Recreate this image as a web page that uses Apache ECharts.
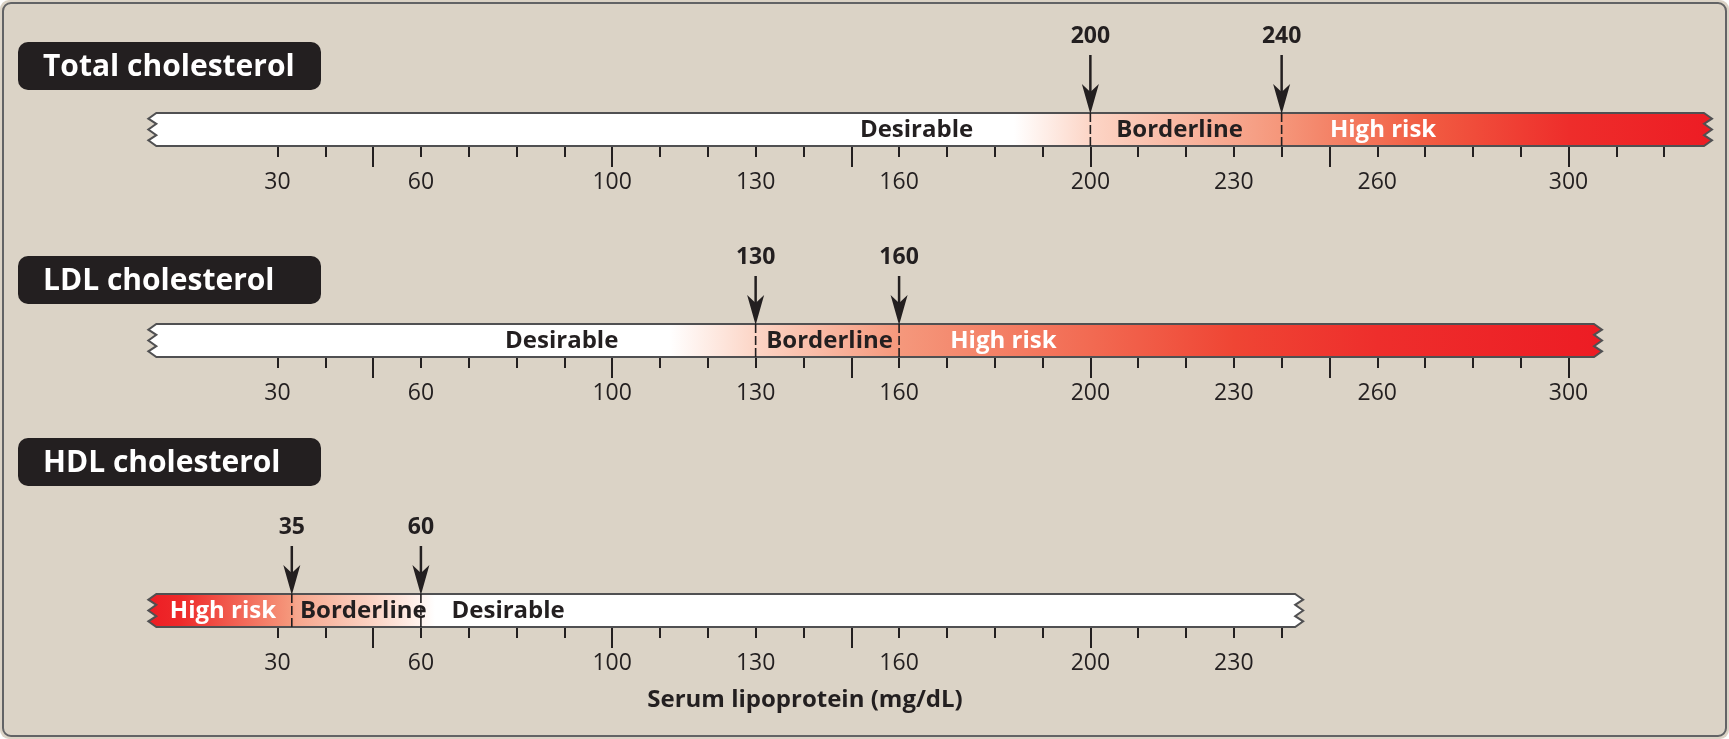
<!DOCTYPE html>
<html>
<head>
<meta charset="utf-8">
<script src="https://cdn.jsdelivr.net/npm/echarts@6.0.0/dist/echarts.min.js"></script>
<style>
  body { margin: 0; background: #ffffff; }
  #wrap { position: relative; width: 1729px; height: 739px; }
  #map_div { position: absolute; left: 0; top: 0; width: 1729px; height: 739px; background: #dbd3c6; border-radius: 9px; }
  #frame { position: absolute; left: 2px; top: 2px; width: 1725px; height: 735px; box-sizing: border-box;
           border: 2px solid #626365; border-radius: 9px; pointer-events: none; }
</style>
</head>
<body>
<div id="wrap"><div id="map_div"></div><div id="frame"></div></div>
<script>
// rows of the figure
var rows = ['Total cholesterol', 'LDL cholesterol', 'HDL cholesterol'];
var barStart = [3, 3, 3];
var barEnd = [330, 307, 244.5];

// cut points (arrow position) and what the arrow says
var cutValues = [[200, 240], [130, 160], [33, 60]];
var cutLabels = [['200', '240'], ['130', '160'], ['35', '60']];

// zone names and where their text begins
var zoneNames = [
  ['Desirable', 'Borderline', 'High risk'],
  ['Desirable', 'Borderline', 'High risk'],
  ['High risk', 'Borderline', 'Desirable']
];
var zoneStarts = [[151.8, 205.4, 250.1], [77.6, 132.2, 170.7], [7.5, 34.7, 66.4]];

// axis labels / ticks
var tickLabels = [
  [30, 60, 100, 130, 160, 200, 230, 260, 300],
  [30, 60, 100, 130, 160, 200, 230, 260, 300],
  [30, 60, 100, 130, 160, 200, 230]
];
var minorTicks = [
  [30, 40, 50, 60, 70, 80, 90, 100, 110, 120, 130, 140, 150, 160, 170, 180, 190, 200, 210, 220, 230, 240, 250, 260, 270, 280, 290, 300, 310, 320],
  [30, 40, 50, 60, 70, 80, 90, 100, 110, 120, 130, 140, 150, 160, 170, 180, 190, 200, 210, 220, 230, 240, 250, 260, 270, 280, 290, 300],
  [30, 40, 50, 60, 70, 80, 90, 100, 110, 120, 130, 140, 150, 160, 170, 180, 190, 200, 210, 220, 230, 240]
];
var majorTicks = [
  [50, 100, 150, 200, 250, 300],
  [50, 100, 150, 200, 250, 300],
  [50, 100, 150, 200]
];

// colour ramps along each bar: [value, colour]
var ramps = [
  [[3, '#ffffff'], [184, '#ffffff'], [200, '#fcd5c6'], [240, '#f5967a'], [270, '#f15c42'], [300, '#ee2d2b'], [330, '#ed1c24']],
  [[3, '#ffffff'], [112, '#ffffff'], [130, '#fcd5c6'], [160, '#f5987c'], [200, '#f26a52'], [230, '#ef4534'], [260, '#ee2e2c'], [307, '#ed1c24']],
  [[3, '#ed1c24'], [10, '#ee2a2a'], [33, '#f5987c'], [34, '#f6a68d'], [50, '#fbd3c4'], [60, '#fff3ee'], [63, '#ffffff'], [244.5, '#ffffff']]
];

var FONT = 'Open Sans';
var INK = '#231f20';
var gridTop = [113, 324, 594];
var barH = 33;
var arrowLen = [58, 48, 48];
var boxTop = [42, 256, 438];

function rampStops(i) {
  var s = barStart[i], e = barEnd[i];
  return ramps[i].map(function (r) {
    return { offset: (r[0] - s) / (e - s), color: r[1] };
  });
}

function barRenderer(i) {
  return function (params, api) {
    var a = api.coord([api.value(0), 1]);
    var b = api.coord([api.value(1), 0]);
    var x0 = a[0], x1 = b[0], y0 = a[1], y1 = b[1], h = y1 - y0;
    var z = 8;
    var f = [0, 0.17, 0.33, 0.5, 0.67, 0.83, 1];
    var pts = [];
    // right end, top to bottom
    for (var k = 0; k < f.length; k++) {
      pts.push([k % 2 ? x1 : x1 - z, y0 + f[k] * h]);
    }
    // left end, bottom to top
    for (var k2 = f.length - 1; k2 >= 0; k2--) {
      pts.push([k2 % 2 ? x0 : x0 + z, y0 + f[k2] * h]);
    }
    return {
      type: 'polygon',
      shape: { points: pts },
      style: {
        fill: new echarts.graphic.LinearGradient(0, 0, 1, 0, rampStops(i)),
        stroke: '#505052',
        lineWidth: 2
      }
    };
  };
}

function cutRenderer(i) {
  return function (params, api) {
    var v = api.value(0);
    var top = api.coord([v, 1]);
    var bot = api.coord([v, 0]);
    var x = top[0], len = arrowLen[i];
    return {
      type: 'group',
      children: [
        { type: 'line', shape: { x1: x, y1: top[1] - len, x2: x, y2: top[1] - 14 },
          style: { stroke: INK, lineWidth: 2.5 } },
        { type: 'polygon', shape: { points: [[x, top[1] + 1], [x - 8.5, top[1] - 29], [x, top[1] - 21], [x + 8.5, top[1] - 29]] },
          style: { fill: INK } },
        { type: 'line', shape: { x1: x, y1: top[1], x2: x, y2: bot[1] },
          style: { stroke: INK, lineWidth: 1.6, lineDash: [9, 3] } },
        { type: 'text', x: x, y: top[1] - len - 19,
          style: { text: cutLabels[i][api.value(1)], fill: INK, font: 'bold 23px "' + FONT + '"',
                   align: 'center', verticalAlign: 'middle' } }
      ]
    };
  };
}

function zoneRenderer(i) {
  return function (params, api) {
    var p = api.coord([api.value(0), 0.5]);
    var name = zoneNames[i][api.value(1)];
    return {
      type: 'text', x: p[0], y: p[1] + 1,
      style: { text: name, fill: name === 'High risk' ? '#ffffff' : INK,
               font: 'bold 24px "' + FONT + '"', align: 'left', verticalAlign: 'middle' }
    };
  };
}

var grids = [], xAxes = [], yAxes = [], series = [], graphics = [];
for (var i = 0; i < rows.length; i++) {
  grids.push({ left: 134, right: 17, top: gridTop[i], height: barH, outerBoundsMode: 'none' });
  xAxes.push({
    gridIndex: i, type: 'value', min: 0, max: 330, position: 'bottom',
    axisLine: { show: false }, splitLine: { show: false },
    axisTick: { show: true, customValues: minorTicks[i], length: 11, lineStyle: { color: INK, width: 2 } },
    axisLabel: { customValues: tickLabels[i], margin: 25, color: INK, fontFamily: FONT, fontSize: 23 }
  });
  // long ticks every 50
  xAxes.push({
    gridIndex: i, type: 'value', min: 0, max: 330, position: 'bottom',
    axisLine: { show: false }, splitLine: { show: false },
    axisTick: { show: true, customValues: majorTicks[i], length: 21, lineStyle: { color: INK, width: 2 } },
    axisLabel: { show: false }
  });
  yAxes.push({ gridIndex: i, type: 'value', min: 0, max: 1, show: false });

  series.push({
    type: 'custom', xAxisIndex: 2 * i, yAxisIndex: i, z: 2,
    renderItem: barRenderer(i), data: [[barStart[i], barEnd[i]]]
  });
  series.push({
    type: 'custom', xAxisIndex: 2 * i, yAxisIndex: i, z: 3,
    renderItem: zoneRenderer(i),
    data: zoneStarts[i].map(function (v, j) { return [v, j]; })
  });
  series.push({
    type: 'custom', xAxisIndex: 2 * i, yAxisIndex: i, z: 4,
    renderItem: cutRenderer(i),
    data: cutValues[i].map(function (v, j) { return [v, j]; })
  });

  // black name plate
  graphics.push({
    type: 'group', left: 18, top: boxTop[i],
    children: [
      { type: 'rect', shape: { x: 0, y: 0, width: 303, height: 48, r: 10 }, style: { fill: INK } },
      { type: 'text', x: 25, y: 25, style: { text: rows[i], fill: '#ffffff', font: 'bold 30px "' + FONT + '"',
        align: 'left', verticalAlign: 'middle' } }
    ]
  });
}

graphics.push({
  type: 'text', x: 805, y: 700,
  style: { text: 'Serum lipoprotein (mg/dL)', fill: INK, font: 'bold 24px "' + FONT + '"',
           align: 'center', verticalAlign: 'middle' }
});

var option = {
  animation: false,
  grid: grids,
  xAxis: xAxes,
  yAxis: yAxes,
  series: series,
  graphic: graphics
};

var myChart = echarts.init(document.getElementById('map_div'));
myChart.setOption(option);
</script>
</body>
</html>
